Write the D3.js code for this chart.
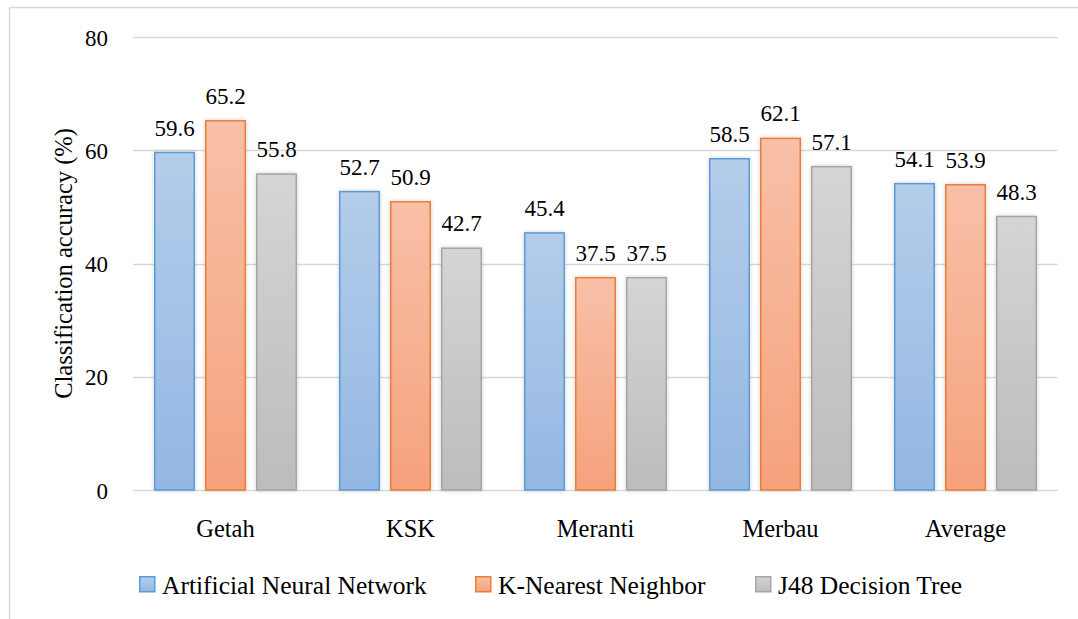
<!DOCTYPE html>
<html>
<head>
<meta charset="utf-8">
<script src="https://cdn.jsdelivr.net/npm/d3@7"></script>
<style>
  html, body { margin: 0; padding: 0; background: #fff; }
  svg { display: block; font-family: "Liberation Serif", "Times New Roman", serif; }
</style>
</head>
<body>
<svg id="chart" width="1078" height="619"></svg>
<script>
// Classification accuracy by wood species and classifier
const categories = ["Getah", "KSK", "Meranti", "Merbau", "Average"];
const seriesNames = ["Artificial Neural Network", "K-Nearest Neighbor", "J48 Decision Tree"];
const annValues = [59.6, 52.7, 45.4, 58.5, 54.1];
const knnValues = [65.2, 50.9, 37.5, 62.1, 53.9];
const j48Values = [55.8, 42.7, 37.5, 57.1, 48.3];
const yTicks = [0, 20, 40, 60, 80];

const seriesValues = [annValues, knnValues, j48Values];
const palette = [
  { stroke: "#5b9bd5", top: "#b4cdea", bottom: "#93b7e3" },
  { stroke: "#ed7d31", top: "#f8c0a8", bottom: "#f5a27c" },
  { stroke: "#a5a5a5", top: "#d5d5d5", bottom: "#bcbcbc" }
];
const FONT = '"Liberation Serif", "Times New Roman", serif';

const svg = d3.select("#chart");
const W = 1078, H = 619;
const plot = { left: 133, right: 1058, top: 37, bottom: 490 };

function styleText(sel, size) {
  sel.attr("font-family", FONT).attr("font-size", size)
    .style("font-family", FONT).style("font-size", size + "px").attr("fill", "#000");
  return sel;
}

// outer chart frame
svg.append("rect")
  .attr("x", 9.5).attr("y", 7.5)
  .attr("width", W + 20).attr("height", H + 20)
  .attr("fill", "none").attr("stroke", "#d9d9d9").attr("stroke-width", 1.5);

const defs = svg.append("defs");
palette.forEach((p, i) => {
  const g = defs.append("linearGradient")
    .attr("id", "grad" + i).attr("x1", 0).attr("y1", 0).attr("x2", 0).attr("y2", 1);
  g.append("stop").attr("offset", "0%").attr("stop-color", p.top);
  g.append("stop").attr("offset", "100%").attr("stop-color", p.bottom);
});
const shadow = defs.append("filter").attr("id", "soft")
  .attr("x", "-20%").attr("y", "-10%").attr("width", "140%").attr("height", "120%");
shadow.append("feDropShadow").attr("dx", 0).attr("dy", 0).attr("stdDeviation", 2)
  .attr("flood-color", "#000").attr("flood-opacity", 0.18);

const y = d3.scaleLinear().domain([0, 80]).range([plot.bottom, plot.top]);
const x0 = d3.scaleBand().domain(categories).range([plot.left, plot.right]).padding(0);
const step = x0.bandwidth();
const x1 = d3.scaleBand().domain(d3.range(3)).range([21, step - 21]).paddingInner(10 / 51).paddingOuter(0);

// gridlines
svg.append("g")
  .selectAll("line")
  .data(yTicks)
  .join("line")
  .attr("x1", plot.left).attr("x2", plot.right)
  .attr("y1", d => Math.round(y(d)) + 0.5).attr("y2", d => Math.round(y(d)) + 0.5)
  .attr("stroke", "#d9d9d9").attr("stroke-width", 1.5);

// y axis tick labels
const yAxis = d3.axisLeft(y).tickValues(yTicks).tickSize(0).tickPadding(0).tickFormat(d3.format("d"));
const yg = svg.append("g").attr("transform", `translate(108,0)`).call(yAxis);
yg.attr("font-family", FONT);
yg.select(".domain").remove();
styleText(yg.selectAll("text"), 23).attr("dy", "0.35em");

// y axis title
styleText(svg.append("text"), 24.5)
  .attr("transform", `translate(72, ${(plot.top + plot.bottom) / 2}) rotate(-90)`)
  .attr("text-anchor", "middle")
  .text("Classification accuracy (%)");

// bars
const groups = svg.append("g")
  .selectAll("g")
  .data(categories)
  .join("g")
  .attr("transform", d => `translate(${x0(d)},0)`);

groups.each(function(cat, ci) {
  const g = d3.select(this);
  seriesValues.forEach((vals, si) => {
    const v = vals[ci];
    g.append("rect")
      .attr("x", x1(si) + 0.75).attr("y", y(v))
      .attr("width", x1.bandwidth() - 1.5).attr("height", y(0) - y(v))
      .attr("fill", `url(#grad${si})`)
      .attr("stroke", palette[si].stroke).attr("stroke-width", 1.5)
      .attr("filter", "url(#soft)");
  });
});
// value labels, drawn after all bars so they sit on top
groups.each(function(cat, ci) {
  const g = d3.select(this);
  seriesValues.forEach((vals, si) => {
    const v = vals[ci];
    styleText(g.append("text"), 23)
      .attr("x", x1(si) + x1.bandwidth() / 2).attr("y", y(v) - 17)
      .attr("text-anchor", "middle")
      .text(v.toFixed(1));
  });
});

// category labels
const xAxis = d3.axisBottom(x0).tickSize(0).tickPadding(0);
const xg = svg.append("g").attr("transform", `translate(0,537)`).call(xAxis);
xg.attr("font-family", FONT);
xg.select(".domain").remove();
styleText(xg.selectAll("text"), 24.5).attr("dy", 0).attr("y", 0);

// legend
const legendX = [139, 475, 755];
const legend = svg.append("g")
  .selectAll("g")
  .data(seriesNames)
  .join("g")
  .attr("transform", (d, i) => `translate(${legendX[i]},576)`);
legend.append("rect")
  .attr("x", 0.75).attr("y", 0.75).attr("width", 15).attr("height", 15)
  .attr("fill", (d, i) => `url(#grad${i})`)
  .attr("stroke", (d, i) => palette[i].stroke).attr("stroke-width", 1.5);
styleText(legend.append("text"), 25.5)
  .attr("x", 23).attr("y", 18)
  .text(d => d);
</script>
</body>
</html>
